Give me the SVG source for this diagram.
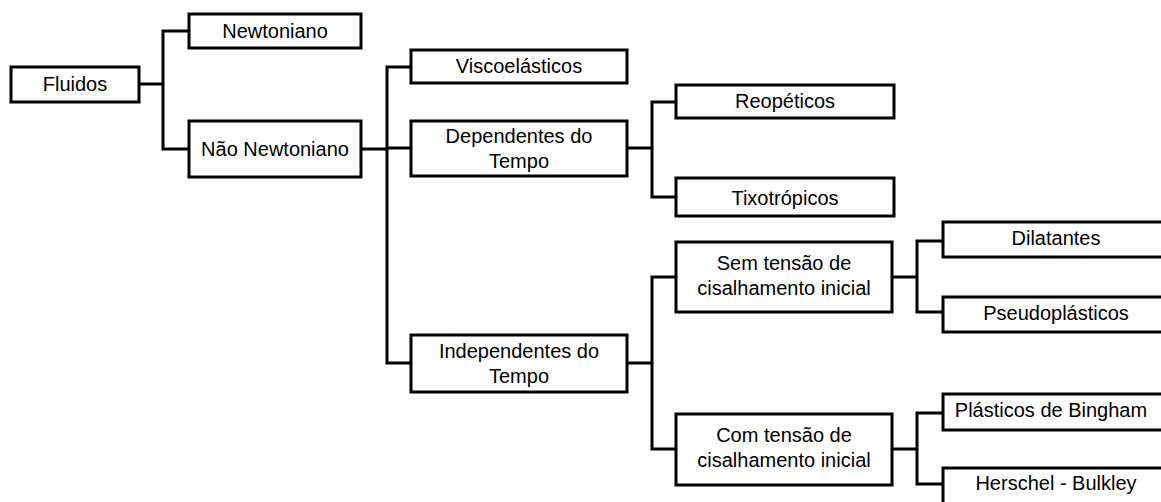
<svg xmlns="http://www.w3.org/2000/svg" width="1161" height="502" viewBox="0 0 1161 502">
<style>
.box{fill:#fff;stroke:#000;stroke-width:3}
.c{fill:none;stroke:#000;stroke-width:3}
text{font-family:"Liberation Sans",Arial,sans-serif;font-size:20px;fill:#000;text-anchor:middle}
</style>
<rect width="1161" height="502" fill="#fff"/>
<g id="connectors">
<path class="c" d="M139 84H163M188 31H163V149H188"/>
<path class="c" d="M361 149H387M410 67H387V363H410M387 148H410"/>
<path class="c" d="M627 148H652M675 102H652V197H675"/>
<path class="c" d="M627 363H652M675 277H652V449H675"/>
<path class="c" d="M892 277H917M942 241H917V312H942"/>
<path class="c" d="M892 449H917M942 413H917V484H942"/>
</g>
<g id="fluidos"><rect class="box" x="11" y="67" width="128" height="35"/><text x="75" y="91">Fluidos</text></g>
<g id="newtoniano"><rect class="box" x="189" y="14" width="172" height="34"/><text x="275" y="38">Newtoniano</text></g>
<g id="nao-newtoniano"><rect class="box" x="189" y="121" width="172" height="56"/><text x="275" y="156">Não Newtoniano</text></g>
<g id="viscoelasticos"><rect class="box" x="411" y="50" width="216" height="33"/><text x="519" y="73">Viscoelásticos</text></g>
<g id="dependentes"><rect class="box" x="411" y="121" width="216" height="55"/><text x="519" y="143">Dependentes do</text><text x="519" y="168">Tempo</text></g>
<g id="independentes"><rect class="box" x="411" y="335" width="216" height="57"/><text x="519" y="358">Independentes do</text><text x="519" y="383">Tempo</text></g>
<g id="reopeticos"><rect class="box" x="676" y="85" width="218" height="33"/><text x="785" y="108">Reopéticos</text></g>
<g id="tixotropicos"><rect class="box" x="676" y="178" width="218" height="38"/><text x="785" y="205">Tixotrópicos</text></g>
<g id="sem-tensao"><rect class="box" x="676" y="242" width="216" height="70"/><text x="784" y="270">Sem tensão de</text><text x="784" y="295">cisalhamento inicial</text></g>
<g id="com-tensao"><rect class="box" x="676" y="414" width="216" height="71"/><text x="784" y="442">Com tensão de</text><text x="784" y="467">cisalhamento inicial</text></g>
<g id="dilatantes"><rect class="box" x="943" y="222" width="222" height="35"/><text x="1056" y="245">Dilatantes</text></g>
<g id="pseudoplasticos"><rect class="box" x="943" y="297" width="222" height="35"/><text x="1056" y="320">Pseudoplásticos</text></g>
<g id="bingham"><rect class="box" x="943" y="394" width="222" height="36"/><text x="1051" y="417">Plásticos de Bingham</text></g>
<g id="herschel"><rect class="box" x="943" y="468" width="222" height="40"/><text x="1056" y="490">Herschel - Bulkley</text></g>
</svg>
